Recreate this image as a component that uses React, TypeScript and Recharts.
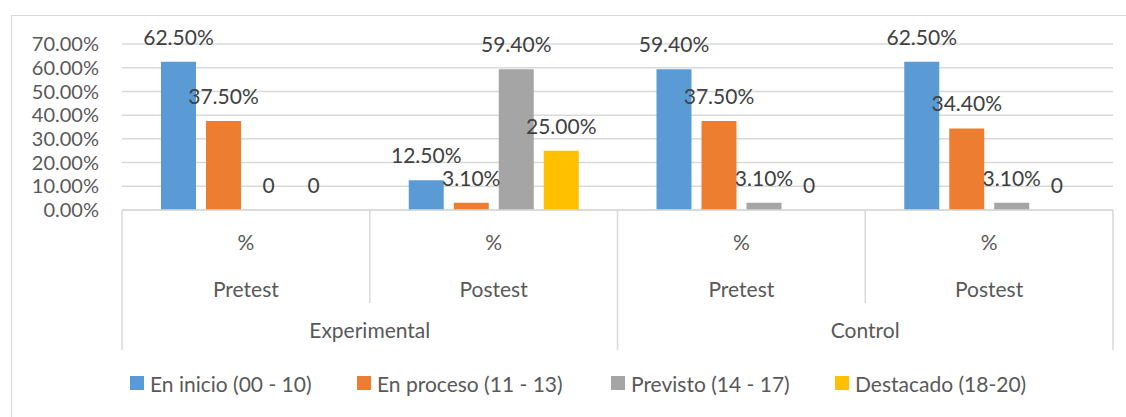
import { BarChart, Bar, XAxis, YAxis, CartesianGrid, Legend, LabelList } from 'recharts';

const stages = ['Pretest', 'Postest', 'Pretest', 'Postest'];
const groups = ['Experimental', 'Experimental', 'Control', 'Control'];
const enInicio = [0.625, 0.125, 0.594, 0.625];
const enProceso = [0.375, 0.031, 0.375, 0.344];
const previsto = [0, 0.594, 0.031, 0.031];
const destacado = [0, 0.25, 0, 0];
const yTicks = [0, 0.1, 0.2, 0.3, 0.4, 0.5, 0.6, 0.7];

const series = [
  { key: 'inicio', name: 'En inicio (00 - 10)', color: '#5B9BD5' },
  { key: 'proceso', name: 'En proceso (11 - 13)', color: '#ED7D31' },
  { key: 'previsto', name: 'Previsto (14 - 17)', color: '#A5A5A5' },
  { key: 'destacado', name: 'Destacado (18-20)', color: '#FFC000' },
];

const data = stages.map((s, i) => ({
  id: i,
  stage: s,
  group: groups[i],
  inicio: enInicio[i],
  proceso: enProceso[i],
  previsto: previsto[i],
  destacado: destacado[i],
}));

const FONT = 'Lato, "Open Sans", sans-serif';
const LINE = '#D9D9D9';
const TEXT = '#595959';
const pct = (v: number) => (v * 100).toFixed(2) + '%';

const CategoryTick = (props: any) => {
  const { x, y, payload, index } = props;
  const half = payload?.offset ?? 124;
  const row = data[index] ?? data[payload.value];
  const full = index % 2 === 1;
  return (
    <g fontFamily={FONT} fontSize={21} fill={TEXT}>
      <text x={x} y={y + 40} textAnchor="middle" fill={TEXT}>%</text>
      <text x={x} y={y + 87} textAnchor="middle" fill={TEXT}>{row.stage}</text>
      {index % 2 === 0 && (
        <text x={x + half} y={y + 128} textAnchor="middle" fill={TEXT}>{row.group}</text>
      )}
      {index === 0 && <line x1={x - half} x2={x - half} y1={y} y2={y + 140} stroke={LINE} strokeWidth={1.5} />}
      <line x1={x + half} x2={x + half} y1={y} y2={y + (full ? 140 : 93)} stroke={LINE} strokeWidth={1.5} />
    </g>
  );
};

const renderLabel = (props: any) => {
  const { x, y, width, value } = props;
  return (
    <text
      x={x + width / 2}
      y={y - 17}
      textAnchor="middle"
      fontFamily={FONT}
      fontSize={21}
      fill="#404040"
    >
      {Number(value) === 0 ? '0' : pct(Number(value))}
    </text>
  );
};

const LegendContent = () => {
  const widths = [227, 254, 224, 220];
  return (
    <div style={{ display: 'flex', paddingLeft: 130, fontFamily: FONT, fontSize: 21, color: TEXT, height: 30, alignItems: 'center' }}>
      {series.map((s, i) => (
        <div key={s.key} style={{ display: 'flex', alignItems: 'center', width: widths[i] }}>
          <span style={{ display: 'inline-block', width: 14, height: 14, background: s.color, marginRight: 6 }} />
          <span>{s.name}</span>
        </div>
      ))}
    </div>
  );
};

export default function App() {
  return (
    <div style={{ position: 'absolute', left: 0, top: 0, width: 1126, height: 417, overflow: 'hidden', background: '#fff' }}>
      <div style={{ position: 'absolute', left: 11, top: 15, width: 1200, height: 500, border: `1px solid ${LINE}` }} />
      <div style={{ position: 'absolute', left: 0, top: 0 }}>
        <BarChart
          width={1126}
          height={417}
          data={data}
          margin={{ top: 44, right: 13, left: 12, bottom: 37 }}
          barCategoryGap={39}
          barGap={10}
        >
          <CartesianGrid vertical={false} stroke={LINE} strokeWidth={1.5} />
          <XAxis
            dataKey="id"
            height={140}
            axisLine={{ stroke: LINE, strokeWidth: 1.5 }}
            tickLine={false}
            tickSize={0}
            tickMargin={0}
            interval={0}
            tick={<CategoryTick />}
          />
          <YAxis
            width={110}
            domain={[0, 0.7]}
            ticks={yTicks}
            interval={0}
            axisLine={false}
            tickLine={false}
            tickSize={0}
            tickMargin={23}
            tickFormatter={pct}
            tick={{ fill: TEXT, fontSize: 20, fontFamily: FONT }}
          />
          <Legend
            verticalAlign="bottom"
            content={<LegendContent />}
            wrapperStyle={{ top: 368, left: 0, width: 1126, height: 30 }}
          />
          {series.map((s) => (
            <Bar key={s.key} dataKey={s.key} name={s.name} fill={s.color} minPointSize={0.1} isAnimationActive={false}>
              <LabelList dataKey={s.key} content={renderLabel} />
            </Bar>
          ))}
        </BarChart>
      </div>
    </div>
  );
}
